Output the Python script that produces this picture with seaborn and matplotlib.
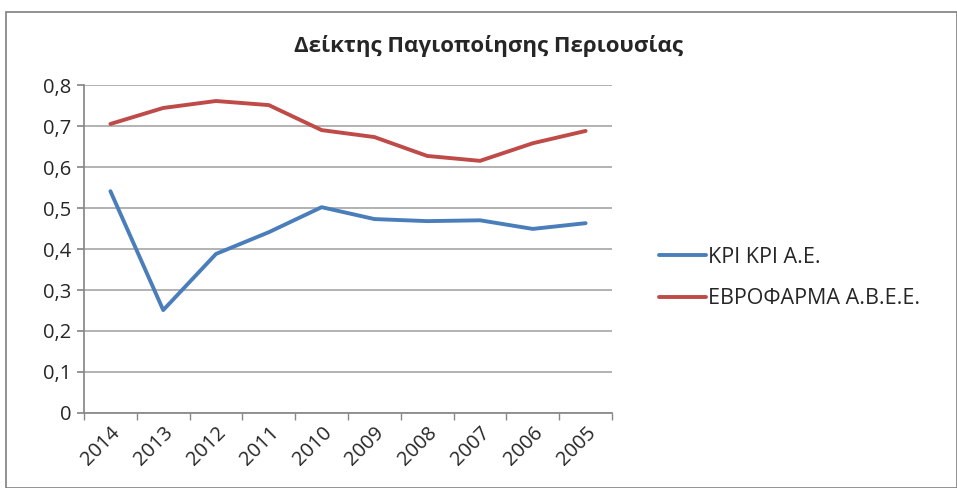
import matplotlib
matplotlib.use("Agg")
import matplotlib.pyplot as plt
import seaborn as sns
import pandas as pd
from matplotlib.ticker import FixedLocator, FuncFormatter
from matplotlib.patches import Rectangle
from matplotlib.lines import Line2D

years = ["2014", "2013", "2012", "2011", "2010", "2009", "2008", "2007", "2006", "2005"]
kri = [0.541, 0.251, 0.388, 0.441, 0.502, 0.473, 0.468, 0.470, 0.449, 0.463]
evro = [0.705, 0.744, 0.761, 0.751, 0.690, 0.673, 0.627, 0.615, 0.658, 0.688]
series_names = ["ΚΡΙ ΚΡΙ Α.Ε.", "ΕΒΡΟΦΑΡΜΑ Α.Β.Ε.Ε."]
title = "Δείκτης Παγιοποίησης Περιουσίας"

sns.set_theme(style="white")
plt.rcParams['font.family'] = ['Open Sans', 'DejaVu Sans']

df = pd.DataFrame({
    "pos": list(range(len(years))) * 2,
    "value": kri + evro,
    "series": [series_names[0]] * len(years) + [series_names[1]] * len(years),
})

fig = plt.figure(figsize=(9.57, 4.88), dpi=100)
ax = fig.add_axes([0.0878, 0.1537, 0.5517, 0.6721])
sns.lineplot(data=df, x="pos", y="value", hue="series",
             palette=["#4a7ebb", "#be4b48"], linewidth=2.8, ax=ax, legend=False)

ax.set_xlim(-0.5, len(years) - 0.5)
ax.set_ylim(0, 0.8)
ax.yaxis.set_major_locator(FixedLocator([i / 10 for i in range(9)]))
ax.yaxis.set_major_formatter(FuncFormatter(lambda v, p: "0" if v == 0 else f"{v:.1f}".replace(".", ",")))
ax.set_xticks(range(len(years)))
ax.set_xticklabels(years, rotation=45, ha="right", rotation_mode="anchor", fontsize=14.5)
ax.tick_params(axis="x", length=0, pad=7)
ax.set_xticks([i - 0.5 for i in range(len(years) + 1)], minor=True)
ax.tick_params(axis="x", which="minor", length=5, color="#888888", direction="out", bottom=True)
ax.tick_params(axis="y", labelsize=14.5, length=5, color="#888888", direction="out", left=True, pad=4)
ax.grid(axis="y", color="#a6a6a6", linewidth=1.2)
ax.set_axisbelow(True)
for s in ["top", "right"]:
    ax.spines[s].set_visible(False)
ax.spines["left"].set_color("#888888")
ax.spines["bottom"].set_color("#888888")
ax.set_xlabel("")
ax.set_ylabel("")

fig.text(0.51, 0.905, title, ha="center", va="center", fontsize=16, fontweight="bold")

handles = [Line2D([], [], color="#4a7ebb", lw=2.8), Line2D([], [], color="#be4b48", lw=2.8)]
fig.legend(handles, series_names, loc="center left", bbox_to_anchor=(0.668, 0.43),
           frameon=False, fontsize=15.5, handlelength=2.2, handletextpad=0.1, labelspacing=0.95)

fig.patches.append(Rectangle((0.006, 0.0), 0.994, 0.975, transform=fig.transFigure,
                             fill=False, edgecolor="#7f7f7f", linewidth=1.2))

fig.savefig("out.png", dpi=100)
